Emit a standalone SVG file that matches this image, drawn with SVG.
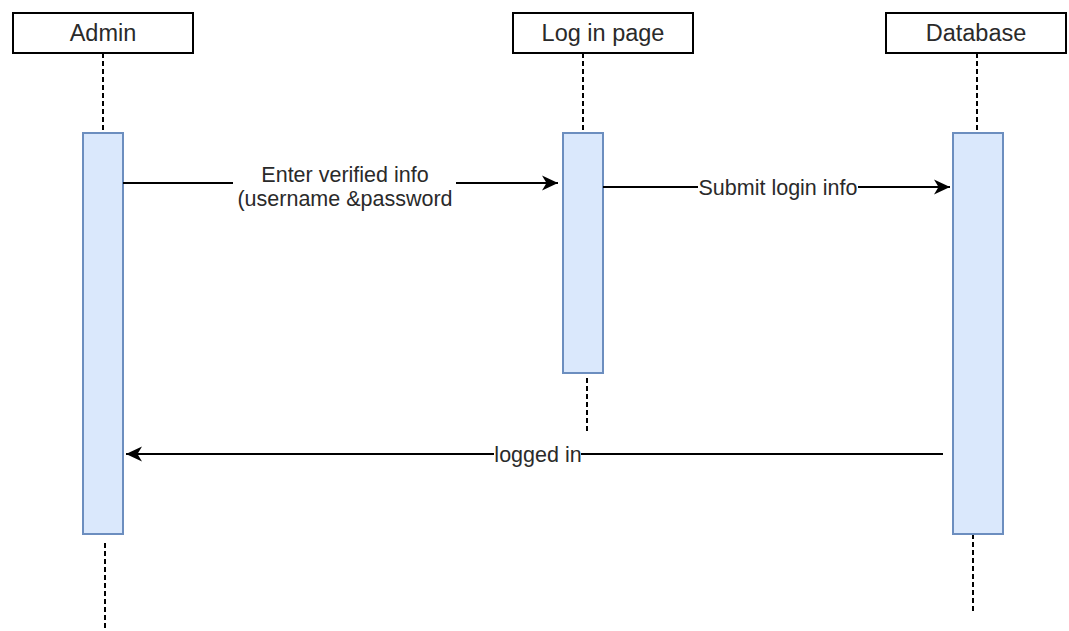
<svg xmlns="http://www.w3.org/2000/svg" width="1069" height="631" viewBox="0 0 1069 631">
<defs>
<style>
.actor{fill:#ffffff;stroke:#000000;stroke-width:2}
.act{fill:#dae8fc;stroke:#6c8ebf;stroke-width:2}
.life{stroke:#000000;stroke-width:2;stroke-dasharray:5 3;fill:none}
.msg{stroke:#000000;stroke-width:2;fill:none}
.lbl{font-family:"Liberation Sans",Arial,sans-serif;font-size:23.5px;fill:#2a2a2a;text-anchor:middle}
.elbl{font-family:"Liberation Sans",Arial,sans-serif;font-size:21.5px;fill:#2a2a2a;text-anchor:middle}
.bg{fill:#ffffff}
</style>
<marker id="arr" markerUnits="userSpaceOnUse" markerWidth="18" markerHeight="18" viewBox="0 0 18 18" refX="16" refY="9" orient="auto">
<path d="M0,1.5 L16,9 L0,16.5 L4.5,9 Z" fill="#000000"/>
</marker>
</defs>
<rect width="1069" height="631" fill="#ffffff"/>
<g id="lifelines">
<line class="life" x1="103" y1="53" x2="103" y2="132"/>
<line class="life" x1="105" y1="543" x2="105" y2="631"/>
<line class="life" x1="583" y1="53" x2="583" y2="132"/>
<line class="life" x1="587" y1="378" x2="587" y2="434"/>
<line class="life" x1="977" y1="53" x2="977" y2="132"/>
<line class="life" x1="973" y1="534" x2="973" y2="614"/>
</g>
<g id="admin">
<rect class="actor" x="13" y="13" width="180" height="40"/>
<text class="lbl" x="103" y="41">Admin</text>
<rect class="act" x="83" y="133" width="40" height="401"/>
</g>
<g id="login-page">
<rect class="actor" x="513" y="13" width="180" height="40"/>
<text class="lbl" x="603" y="41">Log in page</text>
<rect class="act" x="563" y="133" width="40" height="240"/>
</g>
<g id="database">
<rect class="actor" x="886" y="13" width="180" height="40"/>
<text class="lbl" x="976" y="41">Database</text>
<rect class="act" x="953" y="133" width="50" height="401"/>
</g>
<g id="connectors">
<line class="msg" x1="123" y1="183" x2="558" y2="183" marker-end="url(#arr)"/>
<rect class="bg" x="233" y="162" width="223" height="50"/>
<text class="elbl" x="345" y="182">Enter verified info</text>
<text class="elbl" x="345" y="206">(username &amp;password</text>
<line class="msg" x1="603" y1="187" x2="950" y2="187" marker-end="url(#arr)"/>
<rect class="bg" x="698" y="176" width="160" height="22"/>
<text class="elbl" x="778" y="195">Submit login info</text>
<line class="msg" x1="943" y1="454" x2="126" y2="454" marker-end="url(#arr)"/>
<rect class="bg" x="494" y="443" width="87" height="22"/>
<text class="elbl" x="538" y="462">logged in</text>
</g>
</svg>
